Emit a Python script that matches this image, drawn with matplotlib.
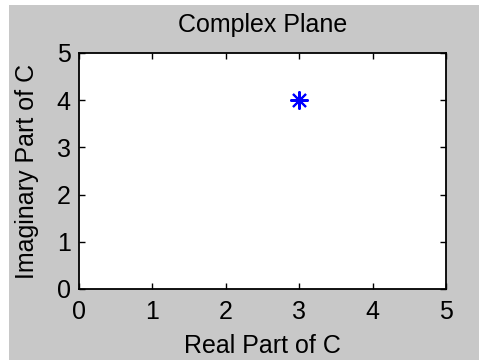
import matplotlib
matplotlib.use("Agg")
from matplotlib import pyplot as plt
from matplotlib.patches import Rectangle

# data
re_part = [3]
im_part = [4]
ticks = [0, 1, 2, 3, 4, 5]

plt.rcParams['font.family'] = ['Liberation Sans', 'DejaVu Sans']

fig = plt.figure(figsize=(4.79, 3.6), dpi=100, facecolor='white')
# gray figure area, with a thin white margin on the left and top
fig.patches.append(Rectangle((9 / 479, 0), 1 - 9 / 479, 1 - 5 / 360,
                             transform=fig.transFigure, facecolor='#c8c8c8',
                             edgecolor='none', zorder=-10))

ax = fig.add_axes([79 / 479, 71 / 360, 367 / 479, 236 / 360])
ax.set_zorder(1)
ax.set_facecolor('white')
ax.plot(re_part, im_part, linestyle='none', marker=(8, 2, 0),
        markersize=13, markeredgewidth=1.5, color='blue')

ax.set_xlim(0, 5)
ax.set_ylim(0, 5)
ax.set_xticks(ticks)
ax.set_yticks(ticks)
ax.tick_params(direction='in', top=True, right=True, length=4, width=1,
               labelsize=18)
ax.tick_params(axis='x', pad=8)
ax.tick_params(axis='y', pad=6)
for s in ax.spines.values():
    s.set_linewidth(1.3)

ax.set_title("Complex Plane", fontsize=18, pad=15)
ax.set_xlabel("Real Part of C", fontsize=18, labelpad=7)
ax.set_ylabel("Imaginary Part of C", fontsize=18, labelpad=13)

fig.savefig("out.png", dpi=100, facecolor=fig.get_facecolor())
